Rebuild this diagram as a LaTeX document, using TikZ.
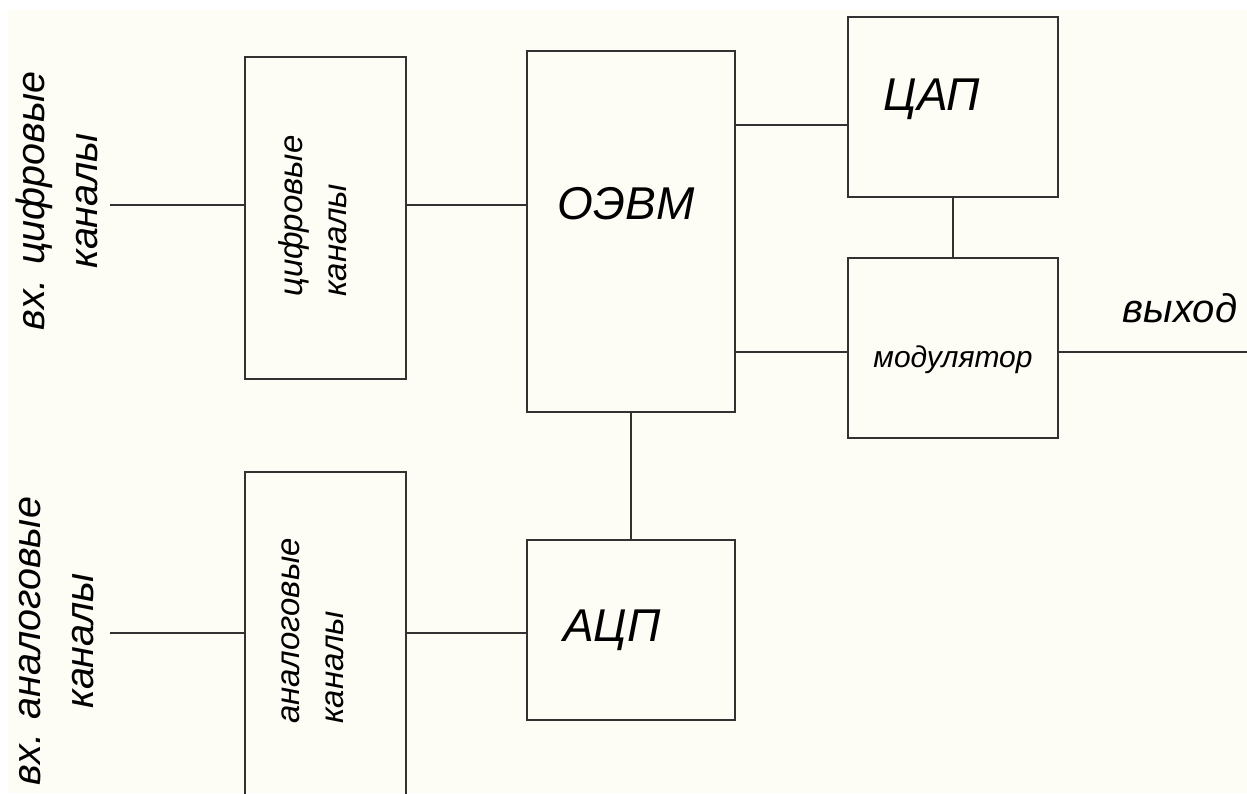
\documentclass[tikz,border=0pt]{standalone}
\usepackage{fontspec}
\setmainfont{Liberation Sans}
\definecolor{bgc}{RGB}{253,253,245}
\definecolor{lc}{RGB}{50,50,50}
\begin{document}
\begin{tikzpicture}[x=1pt,y=-1pt,
  box/.style={draw=lc, line width=2.8pt, rectangle, inner sep=0pt, outer sep=0pt},
  wire/.style={draw=lc, line width=2.8pt},
  big/.style={font=\itshape\fontsize{46}{50}\selectfont, inner sep=0pt, text=black},
  side/.style={font=\itshape\fontsize{39.5}{53}\selectfont, inner sep=0pt, rotate=90, align=center, text=black},
  outlabel/.style={font=\itshape\fontsize{40}{50}\selectfont, inner sep=0pt, text=black},
  inner/.style={font=\itshape\fontsize{33}{44}\selectfont, inner sep=0pt, rotate=90, align=left, anchor=west, text=black},
  small/.style={font=\itshape\fontsize{30}{36}\selectfont, inner sep=0pt, text=black}]
\useasboundingbox (0,0) rectangle (1247,793);
\fill[white] (0,0) rectangle (1247,793);
\fill[bgc] (8,10) rectangle (1247,793);
\clip (0,0) rectangle (1247,793);
% boxes
\node[box, minimum width=161pt, minimum height=322pt] (dig) at (325.5,218) {};
\node[box, minimum width=161pt, minimum height=358pt] (ana) at (325.5,651) {};
\node[box, minimum width=208pt, minimum height=361pt] (oevm) at (631,231.5) {};
\node[box, minimum width=210pt, minimum height=180pt] (cap) at (953,107) {};
\node[box, minimum width=210pt, minimum height=180pt] (mod) at (953,348) {};
\node[box, minimum width=208pt, minimum height=180pt] (acp) at (631,630) {};
% texts
\node[big] (toevm) at (626,203.5) {ОЭВМ};
\node[big, anchor=base] (tcap) at (932,110) {ЦАП};
\node[big, anchor=base] (tacp) at (612,641) {АЦП};
\node[small, anchor=base] (tmod) at (953,367) {модулятор};
\node[outlabel, anchor=base] (tout) at (1180,322) {выход};
\node[side] (tin1) at (57,201) {вх. цифровые\\каналы};
\node[side] (tin2) at (57,641) {вх. аналоговые\\каналы};
\node[inner] (tdig) at (313,297) {цифровые\\каналы};
\node[inner] (tana) at (313,724) {аналоговые\\каналы};
% connectors
\coordinate (in1) at (110,205);
\coordinate (in2) at (110,633);
\coordinate (out) at (1247,352);
\draw[wire] (in1) -- (in1 -| dig.west);
\draw[wire] (dig.east |- in1) -- (in1 -| oevm.west);
\draw[wire] (in2) -- (in2 -| ana.west);
\draw[wire] (ana.east |- in2) -- (in2 -| acp.west);
\draw[wire] (oevm.east |- 0,125) -- (cap.west |- 0,125);
\draw[wire] (oevm.east |- out) -- (mod.west |- out);
\draw[wire] (mod.east |- out) -- (out);
\draw[wire] (cap.south) -- (mod.north);
\draw[wire] (oevm.south) -- (acp.north);
\end{tikzpicture}
\end{document}
